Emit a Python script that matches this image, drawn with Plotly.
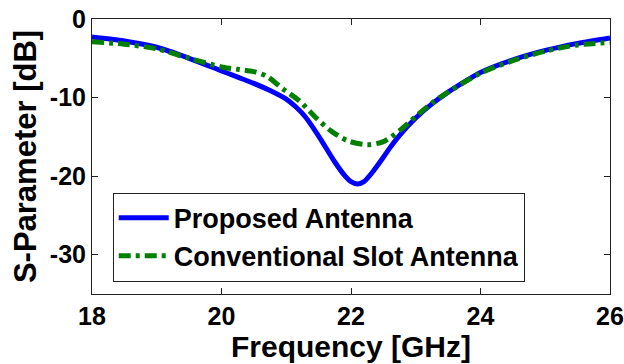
import plotly.graph_objects as go

freq_proposed = [18, 18.5, 19, 19.5, 20, 20.25, 20.5, 20.75, 21, 21.15, 21.3, 21.5, 21.75, 21.9, 22, 22.1, 22.2, 22.35, 22.5, 22.6, 22.75, 23, 23.25, 23.5, 23.75, 24, 24.5, 25, 25.5, 26]
s_proposed = [-2.3, -2.8, -3.6, -5.0, -6.6, -7.4, -8.2, -9.1, -10.2, -11.2, -12.5, -14.9, -18.2, -19.9, -20.7, -21.0, -20.7, -19.3, -17.6, -16.4, -14.8, -12.6, -10.8, -9.3, -8.0, -6.8, -5.2, -4.0, -3.1, -2.4]

freq_conv = [18, 18.5, 19, 19.5, 20, 20.25, 20.5, 20.7, 20.95, 21.2, 21.45, 21.7, 21.95, 22.25, 22.5, 22.75, 23, 23.25, 23.5, 24, 24.5, 25, 25.5, 26]
s_conv = [-2.9, -3.2, -3.8, -5.0, -6.1, -6.4, -6.7, -7.3, -8.9, -10.4, -12.5, -14.3, -15.5, -16.0, -15.6, -14.2, -12.4, -10.7, -9.3, -6.9, -5.3, -4.1, -3.3, -3.0]

x_ticks = [18, 20, 22, 24, 26]
y_ticks = [0, -10, -20, -30]

FONT = "Liberation Sans, Arial, sans-serif"

fig = go.Figure()
fig.add_trace(go.Scatter(
    x=freq_proposed, y=s_proposed, mode="lines", name="Proposed Antenna",
    line=dict(color="#0000FF", width=5, shape="spline", smoothing=0.8),
))
fig.add_trace(go.Scatter(
    x=freq_conv, y=s_conv, mode="lines", name="Conventional Slot Antenna",
    line=dict(color="#008000", width=5, shape="spline", smoothing=0.8, dash="12px,5px,4px,5px"),
))

axis_common = dict(
    showgrid=False, zeroline=False, showline=True, linecolor="#222222", linewidth=1,
    mirror="ticks", ticks="inside", ticklen=6, tickcolor="#222222", tickwidth=1,
    tickfont=dict(family=FONT, size=25, color="black", weight="bold"),
    automargin=False, ticklabeloverflow="allow",
)

fig.update_layout(
    width=624, height=364,
    margin=dict(l=92, r=14, t=19, b=70),
    paper_bgcolor="white", plot_bgcolor="white",
    xaxis=dict(range=[18, 26], tickvals=x_ticks, ticktext=[str(v) for v in x_ticks],
               title=dict(text="Frequency [GHz]", font=dict(family=FONT, size=30, color="black", weight="bold"), standoff=0),
               **axis_common),
    yaxis=dict(range=[-35, 0], tickvals=y_ticks, ticktext=[str(v) for v in y_ticks],
               title=dict(text="S-Parameter [dB]\u00a0\u00a0\u00a0", font=dict(family=FONT, size=31, color="black", weight="bold"), standoff=4),
               **axis_common),
    legend=dict(
        x=0.040, y=0.045, xanchor="left", yanchor="bottom",
        bordercolor="#222222", borderwidth=1, bgcolor="white",
        font=dict(family=FONT, size=27, color="black", weight="bold"),
        itemwidth=50, tracegroupgap=0,
    ),
    showlegend=True,
)

fig.write_html("out.html", config={"displayModeBar": False},
               post_script="document.body.style.margin='0';")
